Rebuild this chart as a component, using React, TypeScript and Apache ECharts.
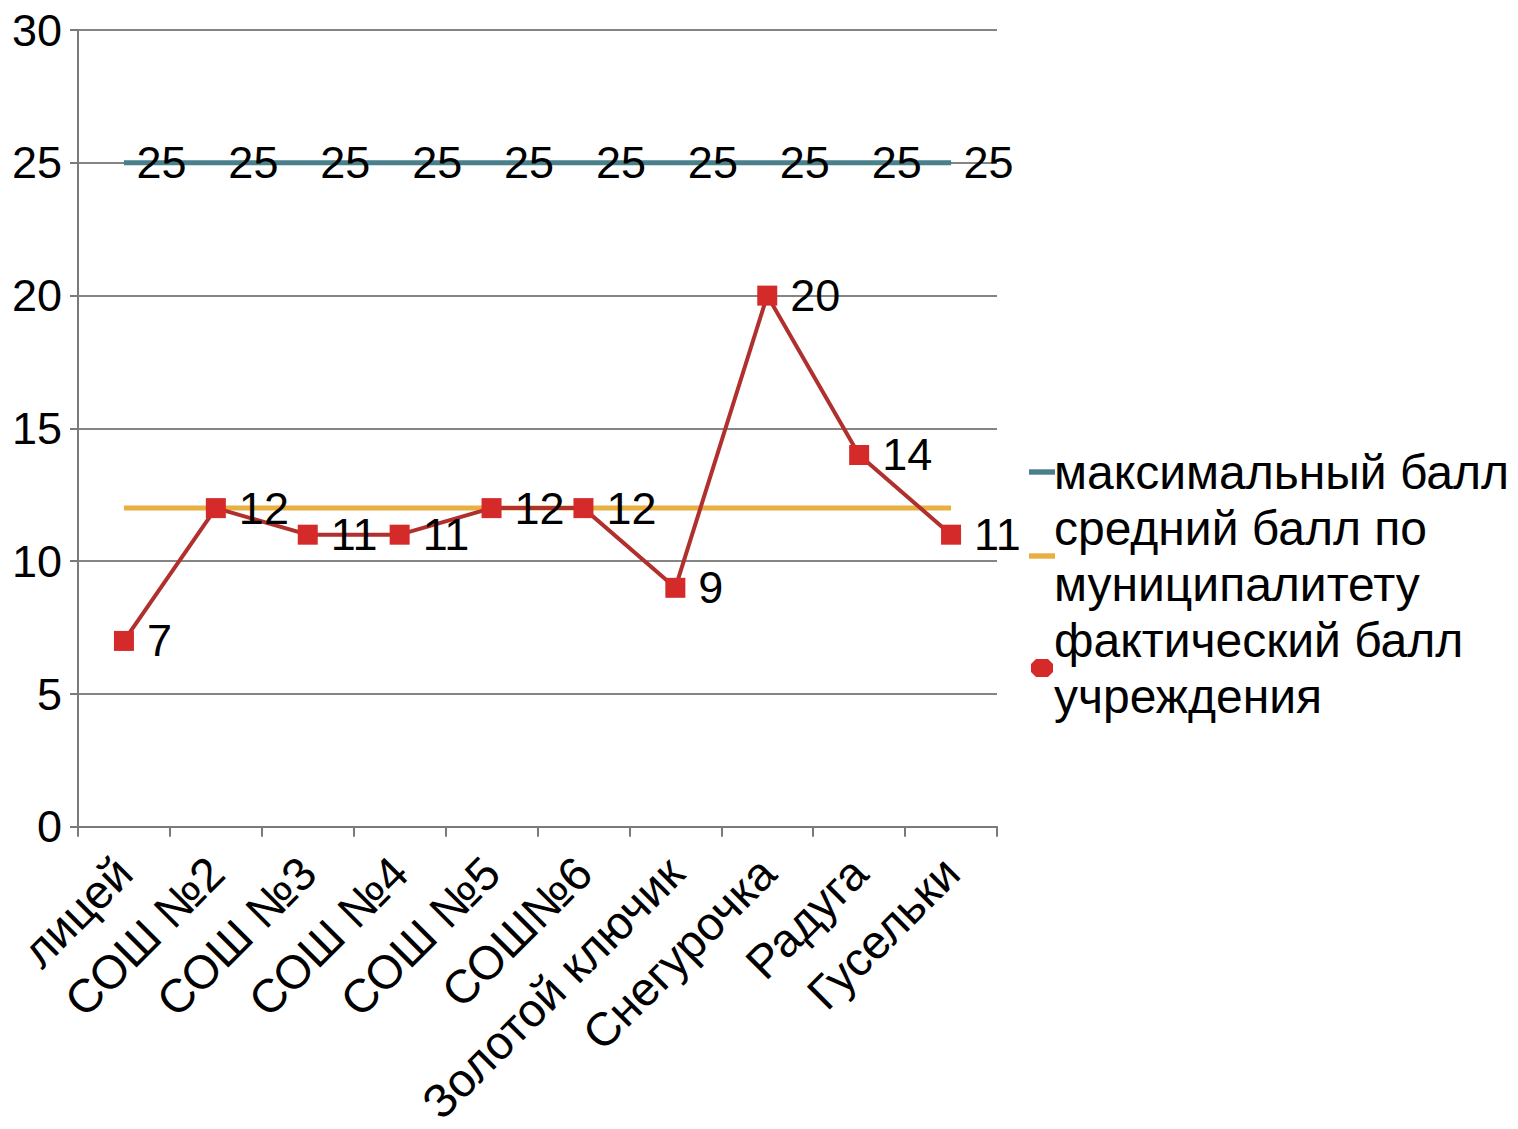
import React, { useEffect, useRef } from "react";
import * as echarts from "echarts";

const categories = ["лицей", "СОШ №2", "СОШ №3", "СОШ №4", "СОШ №5", "СОШ№6", "Золотой ключик", "Снегурочка", "Радуга", "Гусельки"];
const maxScore = [25, 25, 25, 25, 25, 25, 25, 25, 25, 25];
const avgScore = [12, 12, 12, 12, 12, 12, 12, 12, 12, 12];
const actualScore = [7, 12, 11, 11, 12, 12, 9, 20, 14, 11];
const seriesNames = ["максимальный балл", "средний балл по\nмуниципалитету", "фактический балл\nучреждения"];
const yTicks = { min: 0, max: 30, interval: 5 };

const FONT = "'Liberation Sans', Arial, sans-serif";
const TEAL = "#4a7f8c";
const YELLOW = "#e8b040";
const RED = "#d42a2a";
const LINE_ICON = "path://M0,0 L24,0 L24,5 L0,5 Z";
const MARK_ICON = "path://M5,0 L17,0 L22,5 L22,13 L17,18 L5,18 L0,13 L0,5 Z";

export default function App() {
  const ref = useRef<HTMLDivElement>(null);
  useEffect(() => {
    if (!ref.current) return;
    const chart = echarts.init(ref.current, null, { renderer: "svg" });
    chart.setOption({
      animation: false,
      textStyle: { fontFamily: FONT },
      grid: { left: 78, right: 521, top: 30, bottom: 301, containLabel: false },
      legend: {
        orient: "vertical",
        left: 1024,
        top: 439,
        itemGap: 0,
        itemWidth: 26,
        itemHeight: 18,
        symbolKeepAspect: true,
        textStyle: { fontSize: 48, color: "#000", lineHeight: 56, fontFamily: FONT, padding: [0, 0, 0, -6] },
        data: [
          { name: seriesNames[0], icon: LINE_ICON, itemStyle: { color: TEAL } },
          { name: seriesNames[1], icon: LINE_ICON, itemStyle: { color: YELLOW } },
          { name: seriesNames[2], icon: MARK_ICON, itemStyle: { color: RED } },
        ],
      },
      xAxis: {
        type: "category",
        data: categories,
        boundaryGap: true,
        axisLine: { lineStyle: { color: "#7a7a7a", width: 2 } },
        axisTick: { show: true, length: 10, lineStyle: { color: "#7a7a7a", width: 2 } },
        axisLabel: { rotate: 45, fontSize: 47, color: "#000", margin: 38, fontFamily: FONT, interval: 0 },
      },
      yAxis: {
        type: "value",
        min: yTicks.min,
        max: yTicks.max,
        interval: yTicks.interval,
        axisLine: { show: true, lineStyle: { color: "#7a7a7a", width: 2 } },
        axisTick: { show: true, length: 8, lineStyle: { color: "#7a7a7a", width: 2 } },
        axisLabel: { fontSize: 45, color: "#000", margin: 16, fontFamily: FONT },
        splitLine: { lineStyle: { color: "#858585", width: 2 } },
      },
      series: [
        {
          name: seriesNames[0],
          type: "line",
          data: maxScore,
          symbol: "circle",
          symbolSize: 1,
          itemStyle: { color: TEAL },
          lineStyle: { color: TEAL, width: 5 },
          label: { show: true, position: "right", distance: 12, fontSize: 45, color: "#000", fontFamily: FONT },
          z: 2,
        },
        {
          name: seriesNames[1],
          type: "line",
          data: avgScore,
          symbol: "none",
          itemStyle: { color: YELLOW },
          lineStyle: { color: YELLOW, width: 5 },
          z: 2,
        },
        {
          name: seriesNames[2],
          type: "line",
          data: actualScore,
          symbol: "rect",
          symbolSize: 20,
          itemStyle: { color: RED },
          lineStyle: { color: "#b0302e", width: 4 },
          label: { show: true, position: "right", distance: 13, fontSize: 45, color: "#000", fontFamily: FONT },
          z: 3,
        },
      ],
    });
    return () => chart.dispose();
  }, []);
  return <div ref={ref} style={{ width: 1518, height: 1129, position: "absolute", left: 0, top: 0 }} />;
}
